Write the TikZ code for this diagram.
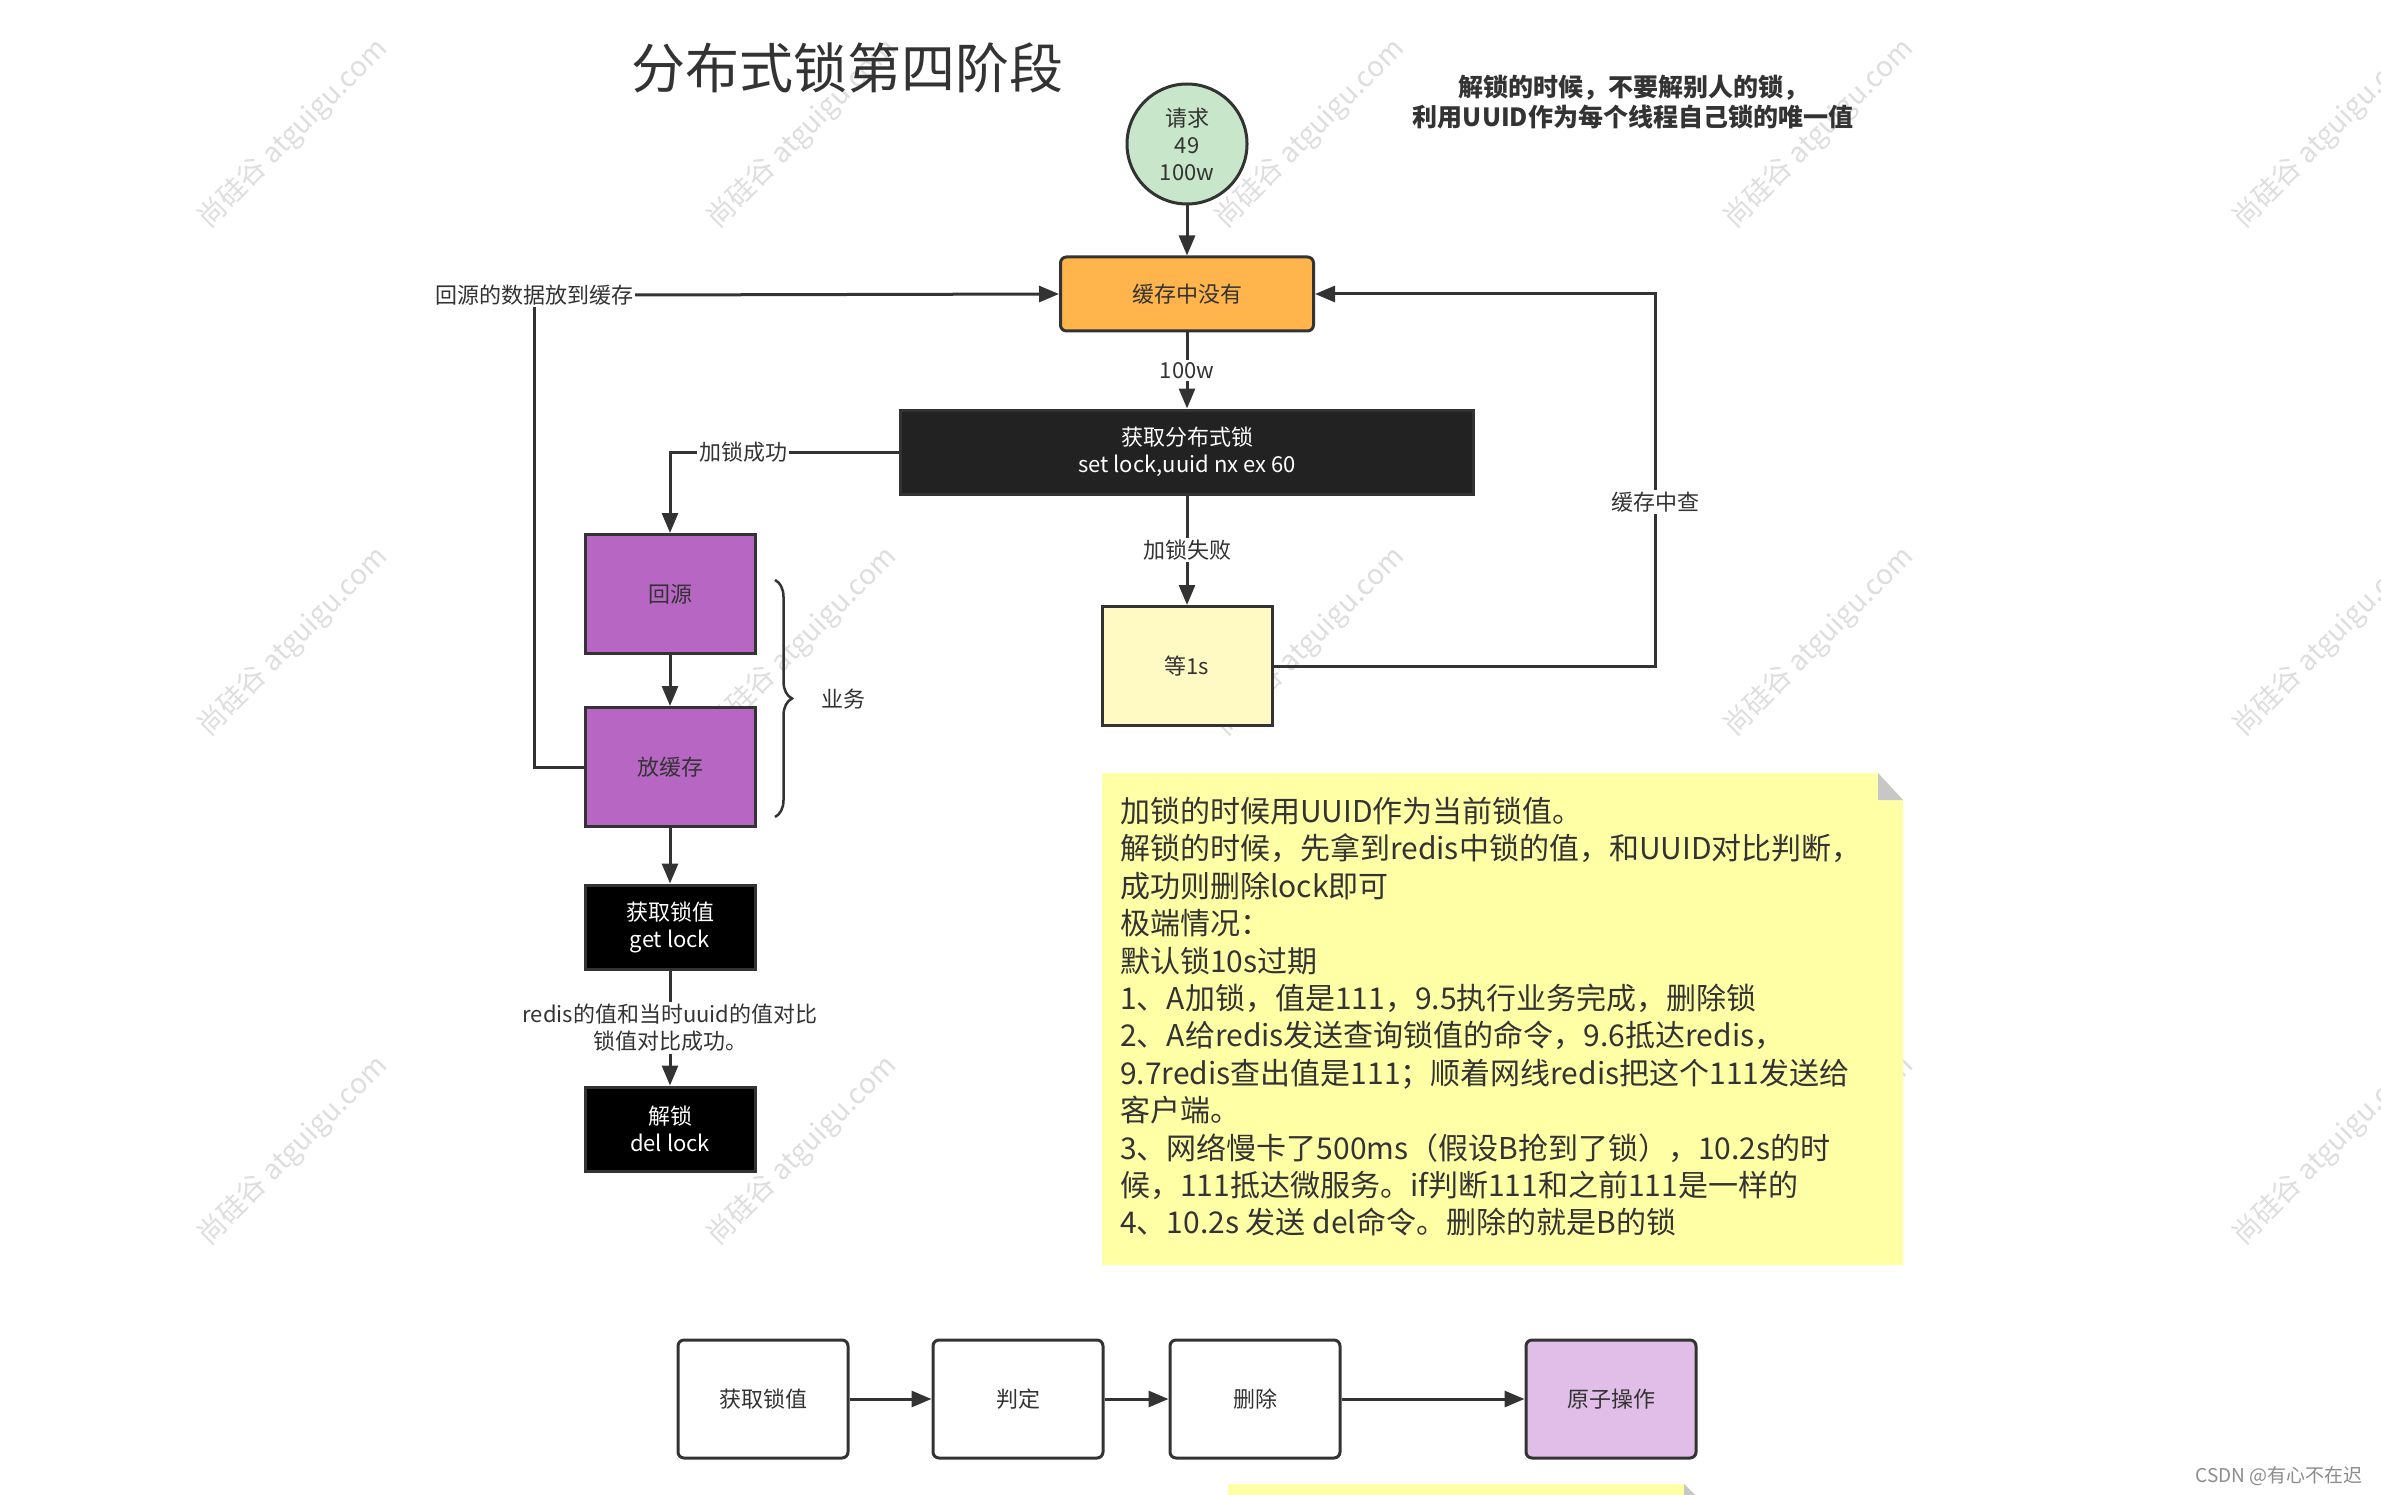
\documentclass[tikz,border=0pt]{standalone}
\usepackage{fontspec}
\setmainfont{Noto Sans CJK SC}
\usetikzlibrary{arrows.meta,decorations.pathreplacing}

\definecolor{ink}{HTML}{333333}
\definecolor{orangebox}{HTML}{FFB54C}
\definecolor{purplebox}{HTML}{B766C4}
\definecolor{lilac}{HTML}{E1BEE7}
\definecolor{mint}{HTML}{C8E6C9}
\definecolor{paleyellow}{HTML}{FFF9C4}
\definecolor{notey}{HTML}{FFFFA6}
\definecolor{darkbox}{HTML}{222222}

\begin{document}
\begin{tikzpicture}[x=1pt,y=-1pt,
  txt/.style={font=\fontsize{22}{27}\selectfont,text=ink,align=center},
  box/.style={txt,draw=ink,line width=3pt,minimum width=170pt,minimum height=119pt,inner sep=0pt},
  blk/.style={box,fill=black,text=white,minimum height=84pt},
  wbox/.style={box,fill=white,rounded corners=6pt,minimum height=118pt},
  lbl/.style={txt,fill=white,inner sep=2pt},
  arr/.style={draw=ink,line width=3pt,-{Triangle[length=20pt,width=16pt]}},
  line/.style={draw=ink,line width=3pt},
  wm/.style={font=\fontsize{28}{28}\selectfont,text=black!13,rotate=45}]
  \useasboundingbox[fill=white] (0,0) rectangle (2381,1495);
  % watermarks
  \foreach \wx in {293,802,1310,1819,2328}
    \foreach \wy in {134,642,1151}
      \node[wm] (wm\wx\wy) at (\wx,\wy) {尚硅谷 atguigu.com};
  % headings
  \node[txt,font=\fontsize{54}{60}\selectfont] (title) at (847,68) {分布式锁第四阶段};
  \node[txt,font=\bfseries\fontsize{25}{30}\selectfont] (tip) at (1633,102)
    {解锁的时候，不要解别人的锁，\\利用UUID作为每个线程自己锁的唯一值};
  % nodes
  \node[txt,circle,draw=ink,line width=3pt,fill=mint,minimum size=120pt,inner sep=0pt] (req) at (1187,144) {请求\\49\\100w};
  \node[box,fill=orangebox,rounded corners=6pt,minimum width=253pt,minimum height=74pt] (cache) at (1187,294) {缓存中没有};
  \node[blk,fill=darkbox,minimum width=573pt] (lock) at (1187,452) {获取分布式锁\\set lock,uuid nx ex 60};
  \node[box,fill=paleyellow] (wait) at (1187,666) {等1s};
  \node[box,fill=purplebox] (src) at (670,594) {回源};
  \node[box,fill=purplebox] (put) at (670,767) {放缓存};
  \node[blk] (getv) at (670,927) {获取锁值\\get lock};
  \node[blk] (delk) at (670,1129) {解锁\\del lock};
  \node[lbl] (back) at (534,295) {回源的数据放到缓存};
  \coordinate (turn) at (1655,294);
  % edges
  \draw[arr] (req) -- (cache);
  \draw[arr] (cache) -- node[lbl]{100w} (lock);
  \draw[arr] (lock.west) -| node[lbl,pos=0.34]{加锁成功} (src.north);
  \draw[arr] (lock) -- node[lbl]{加锁失败} (wait);
  \draw[arr] (wait.east) -| node[lbl,pos=0.72]{缓存中查} (turn) -- (cache.east);
  \draw[arr] (src) -- (put);
  \draw[line] (put.west) -| (back.south);
  \draw[arr] (back.east) -- (cache.west);
  \draw[arr] (put) -- (getv);
  \draw[arr] (getv) -- node[lbl]{redis的值和当时uuid的值对比\\锁值对比成功。} (delk);
  % brace
  \draw[line,line width=2.5pt,decorate,decoration={brace,amplitude=17pt}] (775,580) -- (775,817);
  \node[txt] (biz) at (843,699) {业务};
  % note
  \fill[notey] (1102,773) -- (1878,773) -- (1903,800) -- (1903,1265) -- (1102,1265) -- cycle;
  \fill[black!22] (1878,773) -- (1903,800) -- (1878,800) -- cycle;
  \node[txt,align=left,anchor=north west,inner sep=0pt,font=\fontsize{30}{37.4}\selectfont] (memo) at (1120,797)
    {加锁的时候用UUID作为当前锁值。\\
     解锁的时候，先拿到redis中锁的值，和UUID对比判断，\\
     成功则删除lock即可\\
     极端情况：\\
     默认锁10s过期\\
     1、A加锁，值是111，9.5执行业务完成，删除锁\\
     2、A给redis发送查询锁值的命令，9.6抵达redis，\\
     9.7redis查出值是111；顺着网线redis把这个111发送给\\
     客户端。\\
     3、网络慢卡了500ms（假设B抢到了锁），10.2s的时\\
     候，111抵达微服务。if判断111和之前111是一样的\\
     4、10.2s 发送 del命令。删除的就是B的锁};
  % bottom row
  \node[wbox] (b1) at (763,1399) {获取锁值};
  \node[wbox] (b2) at (1018,1399) {判定};
  \node[wbox] (b3) at (1255,1399) {删除};
  \node[wbox,fill=lilac] (b4) at (1611,1399) {原子操作};
  \draw[arr] (b1) -- (b2);
  \draw[arr] (b2) -- (b3);
  \draw[arr] (b3) -- (b4);
  \fill[notey] (1228,1484) -- (1684,1484) -- (1700,1500) -- (1228,1500) -- cycle;
  \fill[black!22] (1684,1484) -- (1700,1500) -- (1684,1500) -- cycle;
  \node[font=\fontsize{19}{19}\selectfont,text=black!45,anchor=east] (csdn) at (2366,1476) {CSDN @有心不在迟};
\end{tikzpicture}
\end{document}
